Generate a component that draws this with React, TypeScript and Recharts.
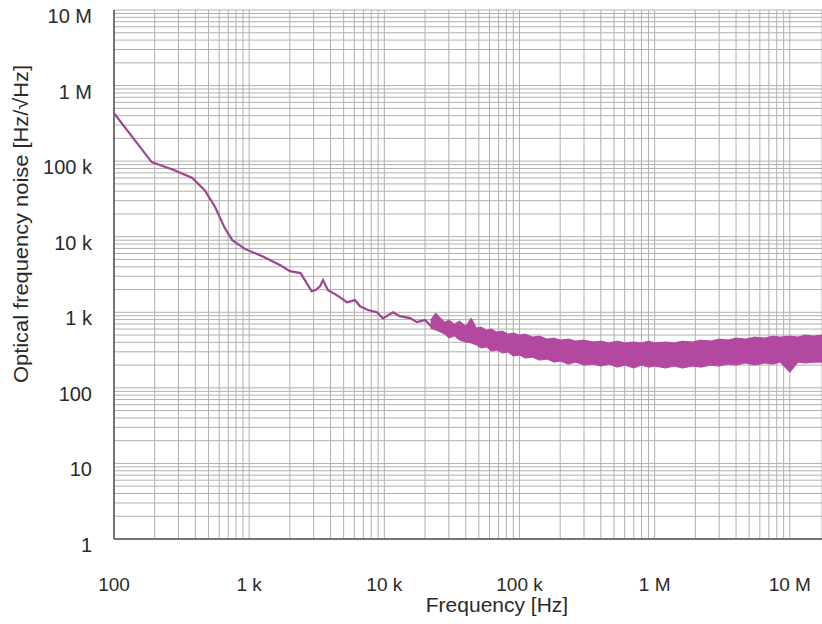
import { ComposedChart, Line, Area, XAxis, YAxis, CartesianGrid, ReferenceLine, Label } from "recharts";

const xTickValues = [100, 1e3, 1e4, 1e5, 1e6, 1e7];
const xTickLabels = ["100", "1 k", "10 k", "100 k", "1 M", "10 M"];
const yTickValues = [1, 10, 100, 1e3, 1e4, 1e5, 1e6, 1e7];
const yTickLabels = ["1", "10", "100", "1 k", "10 k", "100 k", "1 M", "10 M"];

// low-frequency part of the trace: a clean single line
const lineFreq = [
  100, 190, 280, 380, 470, 560, 660, 750, 930, 1250, 1700, 2000, 2400, 2900, 3100, 3340, 3520,
  3830, 4310, 4800, 5290, 6070, 6610, 7570, 8810, 9770, 11600, 13000, 15500, 17400, 20000, 22900,
];
const lineNoise = [
  430e3, 97e3, 76e3, 60e3, 41e3, 24.7e3, 13e3, 9.0e3, 6.9e3, 5.5e3, 4.2e3, 3.5e3, 3.3e3, 1.9e3, 1.97e3,
  2.2e3, 2.67e3, 1.96e3, 1.74e3, 1.54e3, 1.36e3, 1.45e3, 1.2e3, 1.07e3, 1.0e3, 830, 1.0e3, 890, 838, 740,
  789, 620,
];

// high-frequency part: noisy trace, drawn as its min/max envelope
const bandFreq = [
  22e3, 24e3, 26e3, 28e3, 30e3, 33e3, 36e3, 40e3, 44e3, 48e3, 52e3, 57e3, 62e3, 68e3, 75e3, 82e3, 90e3,
  100e3, 110e3, 125e3, 140e3, 160e3, 180e3, 200e3, 230e3, 260e3, 300e3, 350e3, 400e3, 460e3, 530e3,
  600e3, 700e3, 800e3, 900e3, 1e6, 1.2e6, 1.4e6, 1.6e6, 1.9e6, 2.2e6, 2.6e6, 3e6, 3.5e6, 4e6, 4.7e6,
  5.5e6, 6.5e6, 7.5e6, 8.5e6, 10e6, 11.5e6, 13e6, 15e6, 17.3e6,
];
const bandHigh = [
  789, 976, 838, 742, 789, 698, 765, 657, 838, 618, 637, 582, 600, 547, 564, 515, 531, 499, 515, 470,
  484, 442, 456, 429, 442, 416, 429, 404, 416, 392, 416, 392, 404, 392, 416, 392, 404, 392, 416, 404,
  429, 416, 442, 429, 456, 442, 470, 456, 484, 470, 484, 470, 499, 484, 499,
];
const bandLow = [
  618, 582, 547, 515, 456, 484, 429, 404, 392, 368, 336, 347, 307, 316, 289, 298, 263, 272, 248, 255,
  233, 240, 219, 226, 206, 219, 200, 206, 194, 206, 188, 200, 183, 200, 188, 194, 183, 194, 183, 194,
  188, 200, 194, 206, 200, 213, 200, 213, 206, 219, 160, 219, 213, 219, 219,
];

const lineData = lineFreq.map((f, i) => ({ f, v: lineNoise[i] }));
const bandData = bandFreq.map((f, i) => ({ f, range: [bandLow[i], bandHigh[i]] }));

const X_MAX = 17.3e6;

// major decades plus the 2..9 minor lines between them
const withMinor = (majors: number[], max: number) => {
  const out: number[] = [];
  majors.forEach((d) => {
    out.push(d);
    for (let m = 2; m <= 9; m++) if (d * m <= max) out.push(d * m);
  });
  return out.filter((v) => v <= max);
};
const xGridTicks = withMinor(xTickValues, X_MAX);
const yGridTicks = withMinor(yTickValues, 1e7);

const font = "'Liberation Sans', Arial, sans-serif";
const textColor = "#2a2a2a";

const XTick = (props: any) => {
  const { x, y, payload } = props;
  const i = xTickValues.indexOf(payload.value);
  if (i < 0) return <g />;
  return (
    <text x={x} y={y + 37} textAnchor="middle" dominantBaseline="central" fontSize={19} fill={textColor} fontFamily={font}>
      {xTickLabels[i]}
    </text>
  );
};

const YTick = (props: any) => {
  const { x, y, payload } = props;
  const i = yTickValues.indexOf(payload.value);
  if (i < 0) return <g />;
  return (
    <text x={x} y={y + 6} textAnchor="end" dominantBaseline="central" fontSize={20} fill={textColor} fontFamily={font}>
      {yTickLabels[i]}
    </text>
  );
};

export default function App() {
  return (
    <div style={{ position: "absolute", left: 0, top: 0, width: 822, height: 624, background: "#fff" }}>
      <ComposedChart width={822} height={624} margin={{ top: 10, right: 0, left: 14, bottom: 10 }}>
        <CartesianGrid stroke="#b0b0b0" strokeWidth={1} />
        <XAxis
          dataKey="f"
          type="number"
          scale="log"
          domain={[100, X_MAX]}
          ticks={xGridTicks}
          interval={0}
          tick={<XTick />}
          tickLine={false}
          axisLine={false}
          height={75}
          allowDataOverflow
        >
          <Label
            value="Frequency [Hz]"
            position="insideBottom"
            offset={2}
            dx={29}
            style={{ fontSize: 21, fill: textColor, fontFamily: font }}
          />
        </XAxis>
        <YAxis
          type="number"
          scale="log"
          domain={[1, 1e7]}
          ticks={yGridTicks}
          interval={0}
          tick={<YTick />}
          tickLine={false}
          tickSize={0}
          tickMargin={22}
          axisLine={false}
          width={100}
          allowDataOverflow
        >
          <Label
            content={() => (
              <text
                x={21}
                y={224}
                transform="rotate(-90 21 224)"
                textAnchor="middle"
                dominantBaseline="central"
                fontSize={20}
                fill={textColor}
                fontFamily={font}
                textLength={318}
                lengthAdjust="spacingAndGlyphs"
              >
                Optical frequency noise [Hz/√Hz]
              </text>
            )}
          />
        </YAxis>
        <ReferenceLine x={100} stroke="#555" strokeWidth={1.5} />
        <ReferenceLine y={1} stroke="#555" strokeWidth={1.5} />
        <Area
          data={bandData}
          dataKey="range"
          type="linear"
          stroke="#b2489f"
          strokeWidth={1}
          fill="#b2489f"
          fillOpacity={1}
          isAnimationActive={false}
        />
        <Line
          data={lineData}
          dataKey="v"
          type="linear"
          stroke="#9e4590"
          strokeWidth={2.2}
          dot={false}
          isAnimationActive={false}
        />
      </ComposedChart>
    </div>
  );
}
